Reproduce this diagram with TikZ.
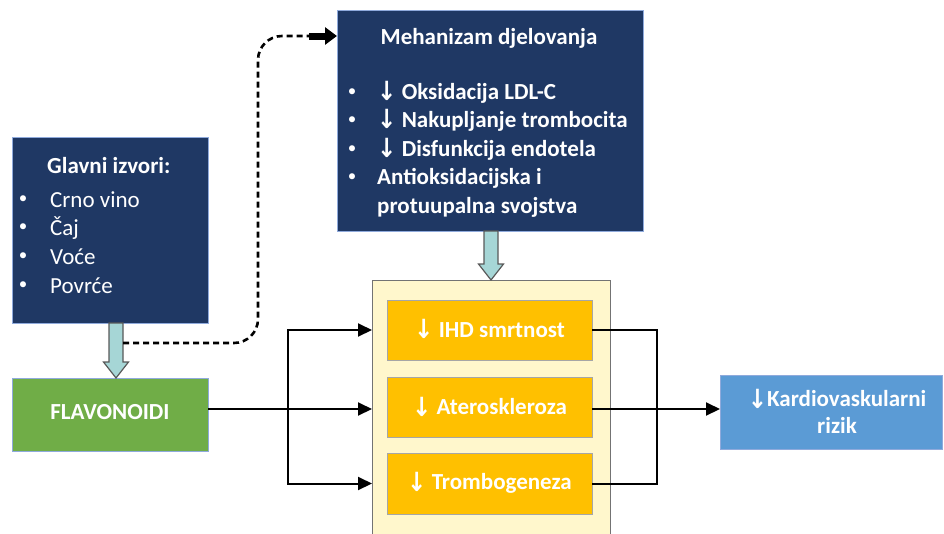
\documentclass[tikz,border=0pt]{standalone}
\usepackage{fontspec}
\usepackage{graphicx}
\setmainfont{Carlito}
\newfontfamily\arrfont{DejaVu Sans}
\usetikzlibrary{arrows.meta,calc}
\definecolor{navy}{RGB}{31,56,100}
\definecolor{fgreen}{RGB}{112,173,71}
\definecolor{forange}{RGB}{255,192,0}
\definecolor{lyellow}{RGB}{255,247,204}
\definecolor{fblue}{RGB}{91,155,213}
\definecolor{fteal}{RGB}{166,214,214}
\definecolor{edgeblue}{RGB}{143,170,220}
\newcommand\dn{\smash{\arrfont\fontsize{22}{22}\selectfont\raisebox{-1.5pt}{\scalebox{1.05}[1.2]{↓}}}}
\newcommand\thickdown[3]{%
  \draw[tarr] (#1-7,#2) -- (#1+7,#2) -- (#1+7,#3-16) -- (#1+12.5,#3-16) -- (#1,#3) -- (#1-12.5,#3-16) -- (#1-7,#3-16) -- cycle;}
\tikzset{
  box/.style={anchor=north west, inner sep=0pt, outer sep=0pt},
  navybox/.style={box, fill=navy, draw=edgeblue, line width=0.6pt},
  obox/.style={box, fill=forange, draw=gray!70, line width=0.6pt},
  wtxt/.style={text=white, inner sep=0pt, font=\fontsize{23}{27}\selectfont},
  btxt/.style={wtxt, font=\bfseries\fontsize{23}{27}\selectfont},
  bul/.style={text=white, inner sep=0pt, font=\fontsize{17}{17}\selectfont},
  tarr/.style={fill=fteal, draw=black!65, line width=1.2pt, line join=miter},
  conn/.style={line width=2pt, draw=black},
  arr/.style={conn, -{Triangle[length=14pt,width=13pt]}},
  dashconn/.style={line width=2.6pt, dash pattern=on 6pt off 4pt, rounded corners=24pt}
}
\begin{document}
\begin{tikzpicture}[x=1pt,y=-1pt]
\useasboundingbox (0,0) rectangle (944,533);
% boxes
\node[navybox, minimum width=196, minimum height=186] (src) at (12,137) {};
\node[navybox, minimum width=306, minimum height=221] (mech) at (337,10) {};
\node[box, fill=fgreen, draw=edgeblue, line width=0.6pt, minimum width=196, minimum height=73] (flav) at (12,378) {};
\node[box, fill=lyellow, draw=black!55, line width=1pt, minimum width=238, minimum height=270] (yel) at (372,280) {};
\node[obox, minimum width=205, minimum height=60] (ihd) at (387,300) {};
\node[obox, minimum width=205, minimum height=60] (atero) at (387,377) {};
\node[obox, minimum width=205, minimum height=61] (tromb) at (387,453) {};
\node[box, fill=fblue, draw=edgeblue, line width=0.6pt, minimum width=222, minimum height=74] (risk) at (720,375) {};
% texts
\node[btxt, anchor=west] (t1) at (47,166) {Glavni izvori:};
\foreach \yy/\tt [count=\i] in {200/Crno vino,228/Čaj,257/Voće,286/Povrće}{
  \node[bul, anchor=center] (sb\i) at (23,\yy) {•};
  \node[wtxt, anchor=west] (si\i) at (50,\yy) {\tt};
}
\node[btxt] (mt) at (489,38) {Mehanizam djelovanja};
\foreach \yy [count=\i] in {93,121,150,178}{
  \node[bul, anchor=center] (mb\i) at (352,\yy) {•};
}
\node[btxt, anchor=west] (m1) at (377,93) {\dn\ Oksidacija LDL-C};
\node[btxt, anchor=west] (m2) at (377,121) {\dn\ Nakupljanje trombocita};
\node[btxt, anchor=west] (m3) at (377,150) {\dn\ Disfunkcija endotela};
\node[btxt, anchor=west] (m4) at (377,178) {Antioksidacijska i};
\node[btxt, anchor=west] (m5) at (377,207) {protuupalna svojstva};
\node[btxt] (ft) at (110,412) {FLAVONOIDI};
\node[btxt] at (ihd.center) {\dn\ IHD smrtnost};
\node[btxt] at (atero.center) {\dn\ Ateroskleroza};
\node[btxt] at (tromb.center) {\dn\ Trombogeneza};
\node[btxt, align=center, font=\bfseries\fontsize{23}{27}\selectfont] (rt) at (837,412) {\dn Kardiovaskularni\\rizik};
% thick arrows
\thickdown{116}{323}{378}
\thickdown{491}{231}{280}
% dashed connector
\coordinate (dstart) at (123,343);
\coordinate (dcorner) at (258,343);
\coordinate (dtop) at (258,36);
\coordinate (dend) at (309,36);
\draw[dashconn] (dstart) -- (dcorner) -- (dtop) -- (dend);
\draw[line width=7pt, -{Triangle[length=12pt,width=17pt]}] (dend) -- (mech.west |- dtop);
% connectors
\coordinate (br) at (288,409);
\coordinate (jn) at (657,409);
\draw[arr] (flav.east |- br) -- (yel.west |- br);
\draw[arr] (br) |- (yel.west |- ihd.west);
\draw[arr] (br) |- (yel.west |- tromb.west);
\draw[conn] (ihd.east) -| (jn);
\draw[conn] (tromb.east) -| (jn);
\draw[arr] (atero.east |- jn) -- (risk.west |- jn);
\end{tikzpicture}
\end{document}
